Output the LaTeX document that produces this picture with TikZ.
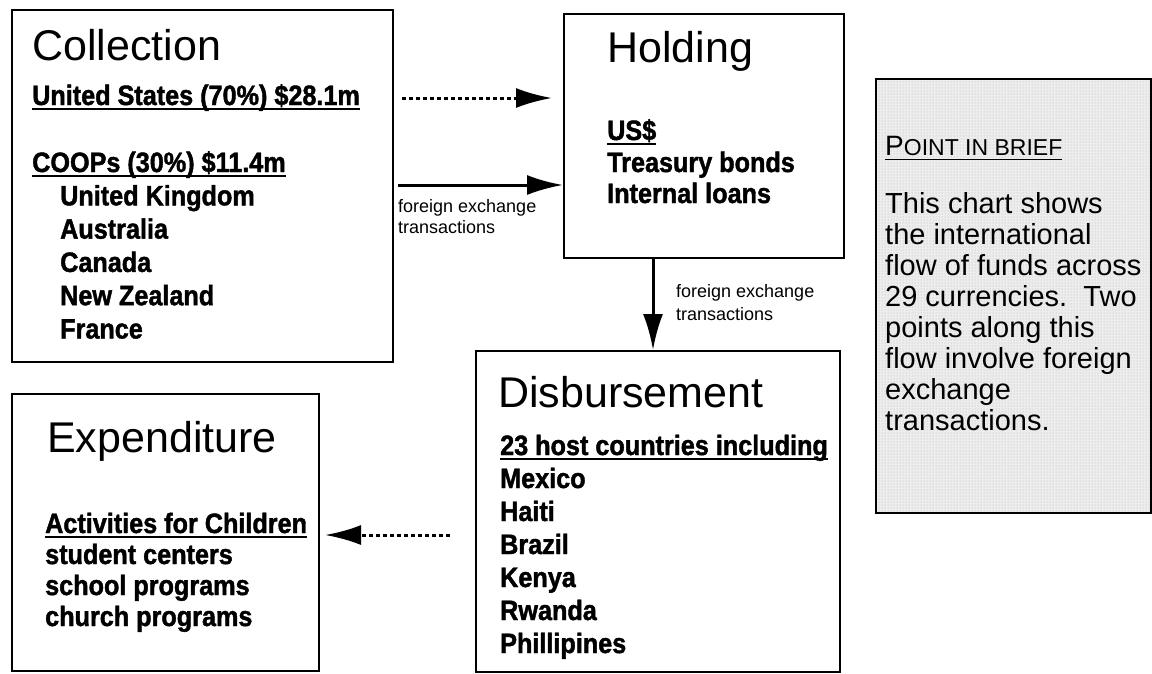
\documentclass[tikz,border=0pt]{standalone}
\usepackage{fontspec}
\setmainfont{Liberation Sans}
\newfontfamily\heavyfont[FakeStretch=0.9,FakeBold=1.5]{Liberation Sans Bold}
\usepackage{tikz}
\usetikzlibrary{arrows.meta,positioning,patterns}

\newcommand{\titlefont}{\fontsize{43}{50}\selectfont}
\newcommand{\listfont}{\heavyfont\fontsize{28}{33}\selectfont}
\newcommand{\notefont}{\fontsize{18}{21}\selectfont}
\newcommand{\brieffont}{\fontsize{29}{31}\selectfont}
\newcommand{\thickul}[1]{\leavevmode\setbox0=\hbox{#1}\rlap{\vrule width\wd0 height -2.8pt depth 5.4pt}\box0}
\newcommand{\thinul}[1]{\leavevmode\setbox0=\hbox{#1}\rlap{\vrule width\wd0 height -3.5pt depth 5pt}\box0}

\begin{document}
\begin{tikzpicture}[x=1pt,y=-1pt,
    box/.style={draw,line width=1.7pt,anchor=north west,inner sep=0pt},
    title/.style={anchor=base west,inner sep=0pt,font=\titlefont},
    item/.style={anchor=base west,inner sep=0pt,font=\listfont},
    note/.style={anchor=base west,inner sep=0pt,font=\notefont},
    flow/.style={line width=3pt,-{Latex[length=36pt,width=20pt]}},
    dotflow/.style={flow,dash pattern=on 4pt off 3pt}]
\useasboundingbox (0,0) rectangle (1152,673);

% Boxes
\node[box,minimum width=381pt,minimum height=352pt] (coll) at (11,9) {};
\node[box,minimum width=280pt,minimum height=244pt] (hold) at (563,13) {};
\node[box,minimum width=364pt,minimum height=321pt] (disb) at (475,350) {};
\node[box,minimum width=307pt,minimum height=277pt] (expend) at (11,393) {};
\node[box,minimum width=275pt,minimum height=434pt,preaction={fill=black!7},
      pattern=dots,pattern color=black!30] (brief) at (875,78) {};

% Collection
\node[title] (colltitle) at (32,60) {Collection};
\node[item] (us) at (32,105) {\thickul{United States (70\%) \$28.1m}};
\node[item] (coops) at (32,172) {\thickul{COOPs (30\%) \$11.4m}};
\foreach \name [count=\i] in {United Kingdom,Australia,Canada,New Zealand,France}
  \node[item] (coop\i) at (60,{172+33.3*\i}) {\name};

% Holding
\node[title] (holdtitle) at (607,62) {Holding};
\node[item] (usd) at (607,140) {\thickul{US\$}};
\node[item] (bonds) at (607,172) {Treasury bonds};
\node[item] (loans) at (607,203) {Internal loans};

% Disbursement
\node[title] (disbtitle) at (498,407) {Disbursement};
\node[item] (hosts) at (500,455) {\thickul{23 host countries including}};
\foreach \name [count=\i] in {Mexico,Haiti,Brazil,Kenya,Rwanda,Phillipines}
  \node[item] (host\i) at (500,{455+33*\i}) {\name};

% Expenditure
\node[title] (exptitle) at (47,452) {Expenditure};
\node[item] (kids) at (45,533) {\thickul{Activities for Children}};
\node[item] (use1) at (45,564) {student centers};
\node[item] (use2) at (45,595) {school programs};
\node[item] (use3) at (45,626) {church programs};

% Point in brief
\node[anchor=base west,inner sep=0pt] (brieftitle) at (885,155)
  {\thinul{{\fontsize{28}{31}\selectfont P}{\fontsize{23}{31}\selectfont OINT IN BRIEF}}};
\foreach \line [count=\i] in {This chart shows,the international,flow of funds across,
    29 currencies.\ \ Two,points along this,flow involve foreign,exchange,transactions.}
  \node[anchor=base west,inner sep=0pt,font=\brieffont] (brief\i) at (885,{182+31*\i}) {\line};

% Arrows
\coordinate (us end) at (402,98);
\draw[dotflow] (us end) -- (552,98);
\coordinate (fx start) at (398,185);
\draw[flow] (fx start) -- (fx start -| hold.west);
\node[note] (fx1a) at (398,212) {foreign exchange};
\node[note] (fx1b) at (398,233) {transactions};

\coordinate (down start) at (653,258);
\draw[flow] (down start) -- (down start |- disb.north);
\node[note] (fx2a) at (676,297) {foreign exchange};
\node[note] (fx2b) at (676,320) {transactions};

\coordinate (out start) at (450,535);
\draw[dotflow] (out start) -- (325,535);
\end{tikzpicture}
\end{document}
